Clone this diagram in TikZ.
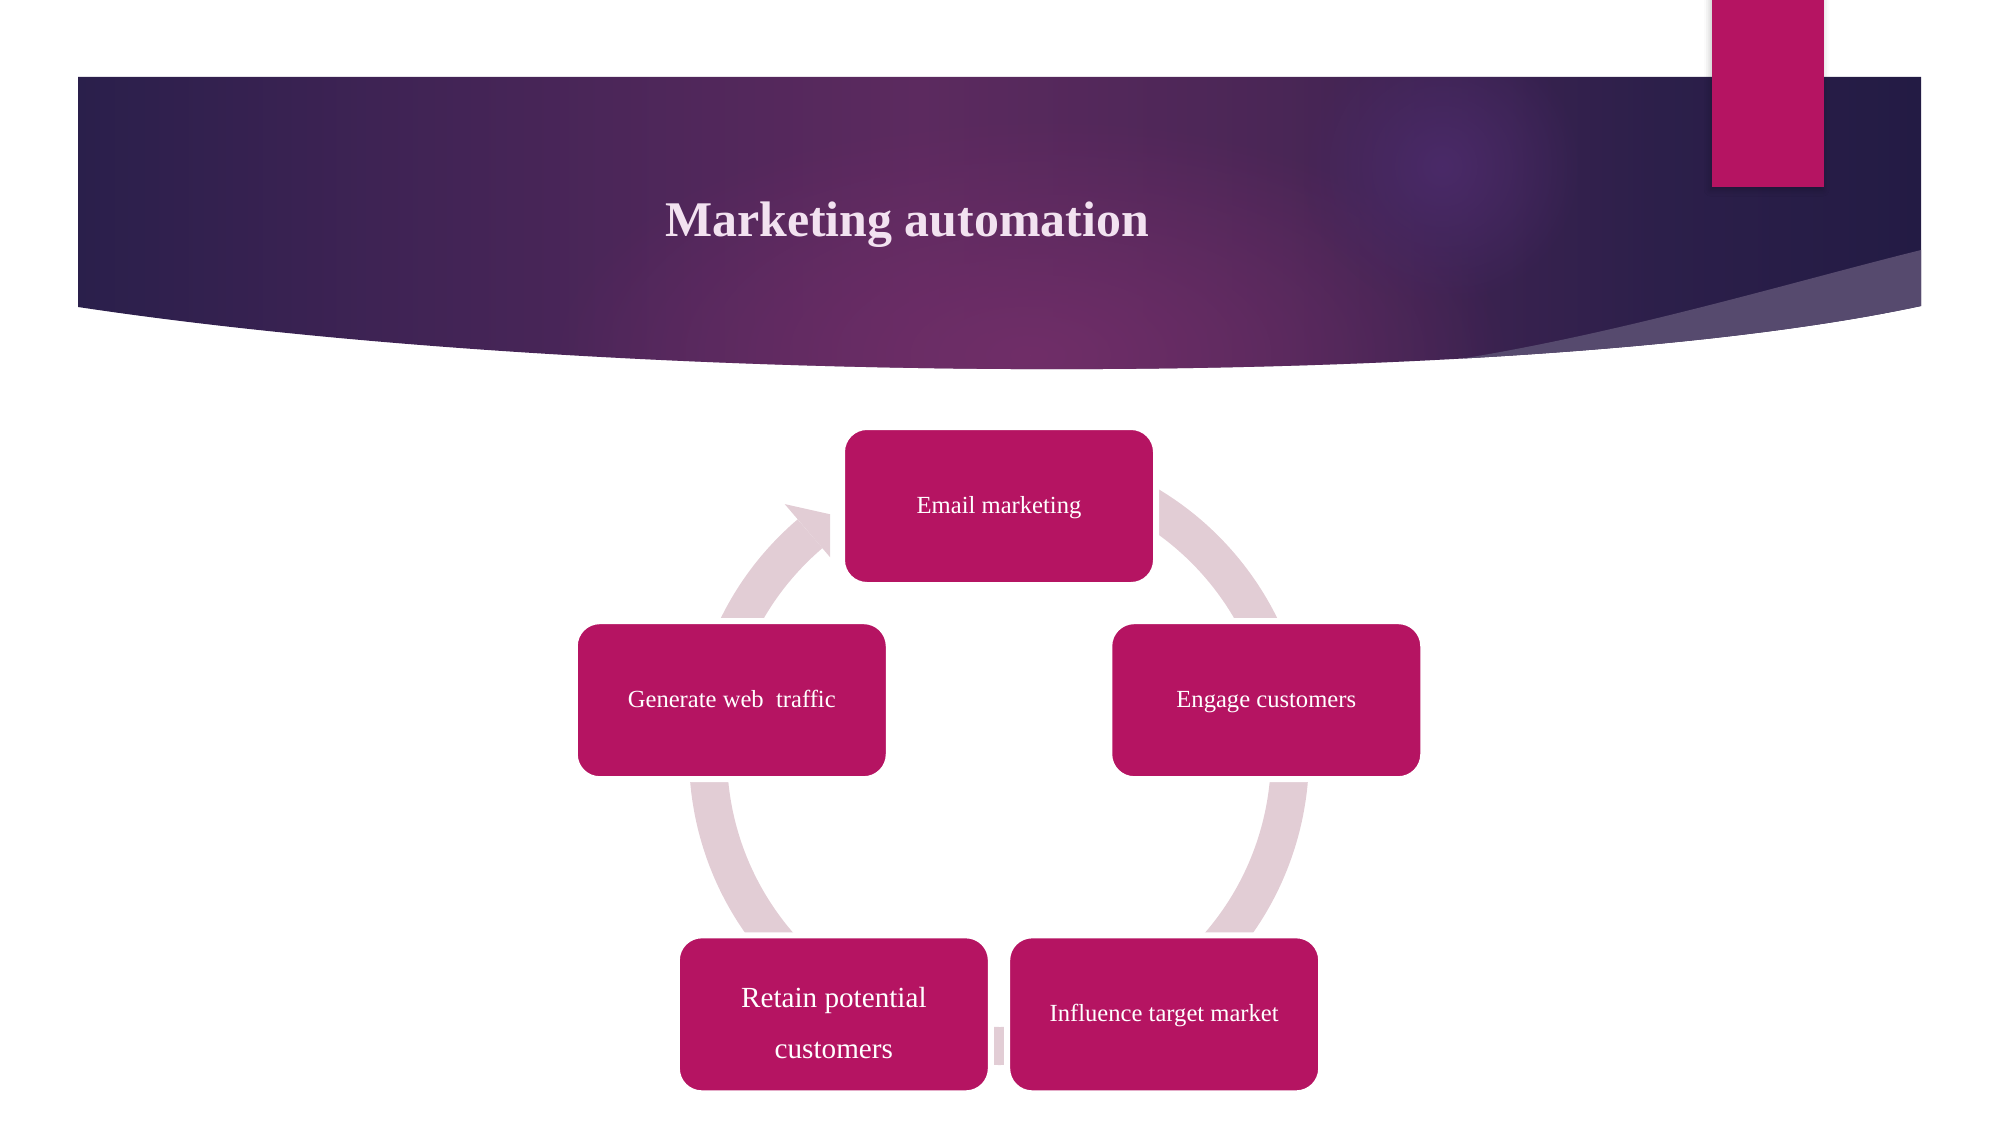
\documentclass[tikz,border=0pt]{standalone}
\usepackage{fontspec}
\setmainfont{Liberation Serif}
\usepackage{tikz}
\usetikzlibrary{calc,fadings,shadows.blur}
\usepackage{xcolor}
\definecolor{BoxMagenta}{RGB}{181,20,98}
\definecolor{RingPink}{RGB}{226,205,213}
\definecolor{HdrC0}{RGB}{42,31,75}
\definecolor{HdrC1}{RGB}{62,35,84}
\definecolor{HdrC2}{RGB}{84,40,92}
\definecolor{HdrC3}{RGB}{92,42,95}
\definecolor{HdrC4}{RGB}{74,38,86}
\definecolor{HdrC5}{RGB}{44,31,74}
\definecolor{HdrC6}{RGB}{35,27,68}
\definecolor{HdrGlow}{RGB}{112,46,104}
\definecolor{HdrSpot}{RGB}{74,42,104}
\definecolor{HdrWedge}{RGB}{86,74,110}
\definecolor{TitleWhite}{RGB}{242,226,240}
\pgfdeclarehorizontalshading{bandshade}{100bp}{color(0bp)=(HdrC0); color(25bp)=(HdrC0);
  color(33bp)=(HdrC1); color(43.6bp)=(HdrC2); color(47.8bp)=(HdrC3); color(57.5bp)=(HdrC4);
  color(67.9bp)=(HdrC5); color(75bp)=(HdrC6); color(100bp)=(HdrC6)}
\tikzfading[name=glowfade,inner color=transparent!0,outer color=transparent!100]
\tikzset{
  stepbox/.style={rectangle,rounded corners=2.5mm,fill=BoxMagenta,draw=white,
    line width=0.6mm,minimum width=3.14cm,minimum height=1.58cm,inner sep=1pt,
    text height=5pt,text depth=1pt,
    align=center,text=white,font=\fontsize{7}{8.4}\selectfont},
  ringline/.style={draw=RingPink,line width=0.38cm},
  ringhead/.style={fill=RingPink},
}

\begin{document}
\begin{tikzpicture}
\useasboundingbox (0,0) rectangle (20.01,11.25);
% header band
\begin{scope}
  \clip (0.78,10.48) -- (19.21,10.48) -- (19.21,8.19) .. controls (15.3,7.35) and (6.3,7.35) .. (0.78,8.18) -- cycle;
  \shade[shading=bandshade] (0.78,7) rectangle (19.21,10.5);
  \fill[HdrGlow,path fading=glowfade] (10.3,7.7) ellipse (4.8 and 2.4);
  \fill[HdrSpot,path fading=glowfade] (14.42,9.59) circle (1.4);
  \fill[HdrWedge] (19.21,8.75) .. controls (17.8,8.4) and (16.0,7.85) .. (14.2,7.6) -- (14.2,7.0) -- (19.3,7.0) -- (19.3,8.75) -- cycle;
\end{scope}
\node[font=\fontsize{14.2}{17}\selectfont\bfseries,text=TitleWhite,anchor=base] (title) at (9.07,8.88) {Marketing automation};
\fill[BoxMagenta,blur shadow={shadow xshift=-0.4pt,shadow yshift=-0.8pt,shadow opacity=25}] (17.12,9.38) rectangle (18.24,11.3);

% cycle ring
\coordinate (rc) at (9.99,3.70);
\coordinate (cyc) at (9.99,3.38);
\draw[ringline] ($(rc)+(130.5:2.91)$) arc[start angle=130.5,end angle=440,radius=2.91];
\begin{scope}
  \clip (0,0) rectangle (8.30,11.25);
  \fill[ringhead] ($(rc)+(130.5:3.30)$) -- ($(rc)+(124.5:2.91)$) -- ($(rc)+(130.5:2.52)$)
    -- ($(rc)+(130.5:2.72)$) -- ($(rc)+(130.5:3.10)$) -- cycle;
\end{scope}

% steps
\node[stepbox] (email) at ($(cyc)+(90:2.81)$) {Email marketing};
\node[stepbox] (engage) at ($(cyc)+(18:2.81)$) {Engage customers};
\node[stepbox] (influence) at ($(cyc)+(-54:2.81)$) {Influence target market};
\node[stepbox,font=\fontsize{8.3}{14.5}\selectfont,text height=25pt,text depth=0pt] (retain) at ($(cyc)+(-126:2.81)$) {Retain potential\\customers};
\node[stepbox] (traffic) at ($(cyc)+(162:2.81)$) {Generate web\ \ traffic};
\end{tikzpicture}
\end{document}
